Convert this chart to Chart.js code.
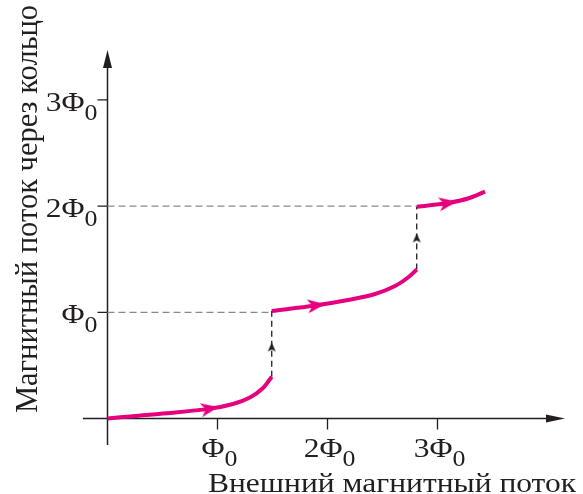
<!DOCTYPE html>
<html lang="ru">
<head>
    <meta charset="UTF-8">
    <title>Магнитный поток через кольцо</title>
    <script src="https://cdn.jsdelivr.net/npm/chart.js"></script>
    <style>
        body {
            margin: 0;
            padding: 0;
            background: #fff;
        }
        .chart-box {
            width: 583px;
            height: 494px;
        }
    </style>
</head>
<body>

<div class="chart-box">
    <canvas id="fluxChart"></canvas>
</div>

<script>
    // values in units of Φ0: external flux (x) vs flux through the ring (y)
    const branch1X = [0, 0.232, 0.541, 0.932, 1.141, 1.295, 1.414, 1.493];
    const branch1Y = [0, 0.022, 0.049, 0.093, 0.137, 0.198, 0.287, 0.394];
    const branch2X = [1.493, 1.886, 2.186, 2.432, 2.614, 2.732, 2.811];
    const branch2Y = [1.012, 1.064, 1.116, 1.172, 1.248, 1.328, 1.403];
    const branch3X = [2.811, 2.95, 3.095, 3.277, 3.432];
    const branch3Y = [1.994, 2.010, 2.029, 2.072, 2.136];

    // jumps between branches (dashed verticals)
    const jumpX = [1.493, 2.811];
    const jumpFromY = [0.394, 1.403];
    const jumpToY = [1.012, 1.994];
    const jumpArrowY = [0.673, 1.70];

    // guide levels Φ0 and 2Φ0 (dashed horizontals)
    const levelY = [1, 2];
    const levelEndX = [1.493, 2.811];

    // direction arrows on the branches
    const arrowX = [0.93, 1.9, 3.095];
    const arrowY = [0.093, 1.066, 2.029];
    const arrowAngle = [-10, -7, -9];

    // axis ticks
    const tickValues = [1, 2, 3];
    const tickPrefix = ['', '2', '3'];
    const tickSymbol = 'Φ';
    const tickSub = '0';
    const xTitle = 'Внешний магнитный поток';
    const yTitle = 'Магнитный поток через кольцо';

    const MAGENTA = '#e5007e';
    const INK = '#231f20';
    const SERIF = '"Liberation Serif", "DejaVu Serif", serif';
    const STRETCH = 1.125; // the print type is a bit wide

    function toPoints(xs, ys) {
        return xs.map((x, i) => ({ x: x, y: ys[i] }));
    }

    // arrow head drawn once, pointing right; Chart.js rotates it per point
    function makeArrow(len, half, notch, color) {
        const c = document.createElement('canvas');
        c.width = len + 2;
        c.height = half * 2 + 2;
        const g = c.getContext('2d');
        g.fillStyle = color;
        g.beginPath();
        g.moveTo(1, 1);
        g.lineTo(len + 1, half + 1);
        g.lineTo(1, half * 2 + 1);
        g.lineTo(1 + notch, half + 1);
        g.closePath();
        g.fill();
        return c;
    }
    const magentaArrow = makeArrow(18, 7, 5, MAGENTA);
    const blackArrow = makeArrow(9, 4, 2, INK);

    const datasets = [];

    [[branch1X, branch1Y], [branch2X, branch2Y], [branch3X, branch3Y]].forEach(b => {
        datasets.push({
            data: toPoints(b[0], b[1]),
            borderColor: MAGENTA,
            borderWidth: 4,
            borderCapStyle: 'butt',
            tension: 0.35,
            pointRadius: 0,
            showLine: true,
            order: 1
        });
    });

    levelY.forEach((y, i) => {
        datasets.push({
            data: [{ x: 0, y: y }, { x: levelEndX[i], y: y }],
            borderColor: '#8a8a8a',
            borderWidth: 1.3,
            borderDash: [7, 4],
            pointRadius: 0,
            showLine: true,
            order: 3
        });
    });

    jumpX.forEach((x, i) => {
        datasets.push({
            data: [{ x: x, y: jumpFromY[i] }, { x: x, y: jumpToY[i] }],
            borderColor: INK,
            borderWidth: 1.3,
            borderDash: [6, 4],
            pointRadius: 0,
            showLine: true,
            order: 2
        });
    });

    datasets.push({
        data: toPoints(arrowX, arrowY),
        pointStyle: magentaArrow,
        rotation: arrowAngle,
        pointRadius: 9,
        showLine: false,
        order: 0
    });

    datasets.push({
        data: toPoints(jumpX, jumpArrowY),
        pointStyle: blackArrow,
        rotation: -90,
        pointRadius: 5,
        showLine: false,
        order: 0
    });

    function wideText(ctx, text, x, y, size, align) {
        ctx.save();
        ctx.translate(x, y);
        ctx.scale(STRETCH, 1);
        ctx.font = size + 'px ' + SERIF;
        ctx.textAlign = align;
        ctx.textBaseline = 'alphabetic';
        ctx.fillText(text, 0, 0);
        ctx.restore();
    }

    function tickLabel(ctx, main, x, y, anchor) {
        ctx.font = '28px ' + SERIF;
        const wm = ctx.measureText(main).width * STRETCH;
        ctx.font = '23px ' + SERIF;
        const ws = ctx.measureText(tickSub).width * STRETCH;
        const left = anchor === 'center' ? x + 2 - (wm + ws) / 2 : x - (wm + ws);
        wideText(ctx, main, left, y, 28, 'left');
        wideText(ctx, tickSub, left + wm, y + 9, 23, 'left');
    }

    // axes with arrows, ticks and labels
    const axesPlugin = {
        id: 'axesPlugin',
        beforeDatasetsDraw(chart) {
            const ctx = chart.ctx;
            const area = chart.chartArea;
            const xs = chart.scales.x;
            const ys = chart.scales.y;
            const x0 = xs.getPixelForValue(0);
            const y0 = ys.getPixelForValue(0);

            ctx.save();
            ctx.strokeStyle = INK;
            ctx.fillStyle = INK;
            ctx.lineWidth = 1.5;

            ctx.beginPath();
            ctx.moveTo(area.left, y0);
            ctx.lineTo(area.right - 8, y0);
            ctx.moveTo(x0, area.bottom);
            ctx.lineTo(x0, area.top + 8);
            ctx.stroke();

            ctx.beginPath();
            ctx.moveTo(area.right, y0);
            ctx.lineTo(area.right - 19, y0 - 4);
            ctx.lineTo(area.right - 19, y0 + 4);
            ctx.closePath();
            ctx.fill();

            ctx.beginPath();
            ctx.moveTo(x0, area.top);
            ctx.lineTo(x0 - 4.5, area.top + 18);
            ctx.lineTo(x0 + 4.5, area.top + 18);
            ctx.closePath();
            ctx.fill();

            ctx.lineWidth = 1.3;
            tickValues.forEach((v, i) => {
                const px = xs.getPixelForValue(v);
                const py = ys.getPixelForValue(v);
                ctx.beginPath();
                ctx.moveTo(px, y0);
                ctx.lineTo(px, y0 + 11);
                ctx.moveTo(x0, py);
                ctx.lineTo(x0 - 10, py);
                ctx.stroke();

                const main = tickPrefix[i] + tickSymbol;
                tickLabel(ctx, main, px, y0 + 38, 'center');
                tickLabel(ctx, main, x0 - 10, py + 11, 'right');
            });

            wideText(ctx, xTitle, 392, 492, 28, 'center');

            ctx.save();
            ctx.translate(37, 209);
            ctx.scale(1.05, 1);
            ctx.rotate(-Math.PI / 2);
            ctx.font = '30.5px ' + SERIF;
            ctx.textAlign = 'center';
            ctx.textBaseline = 'alphabetic';
            ctx.fillText(yTitle, 0, 0);
            ctx.restore();

            ctx.restore();
        }
    };

    const ctx = document.getElementById('fluxChart').getContext('2d');
    const fluxChart = new Chart(ctx, {
        type: 'scatter',
        data: { datasets: datasets },
        options: {
            responsive: true,
            maintainAspectRatio: false,
            animation: false,
            layout: {
                padding: { left: 83, right: 18, top: 50, bottom: 49 }
            },
            plugins: {
                legend: { display: false },
                tooltip: { enabled: false }
            },
            scales: {
                x: { type: 'linear', min: -0.2227, max: 4.159, display: false },
                y: { type: 'linear', min: -0.2495, max: 3.47, display: false }
            }
        },
        plugins: [axesPlugin]
    });
</script>

</body>
</html>
